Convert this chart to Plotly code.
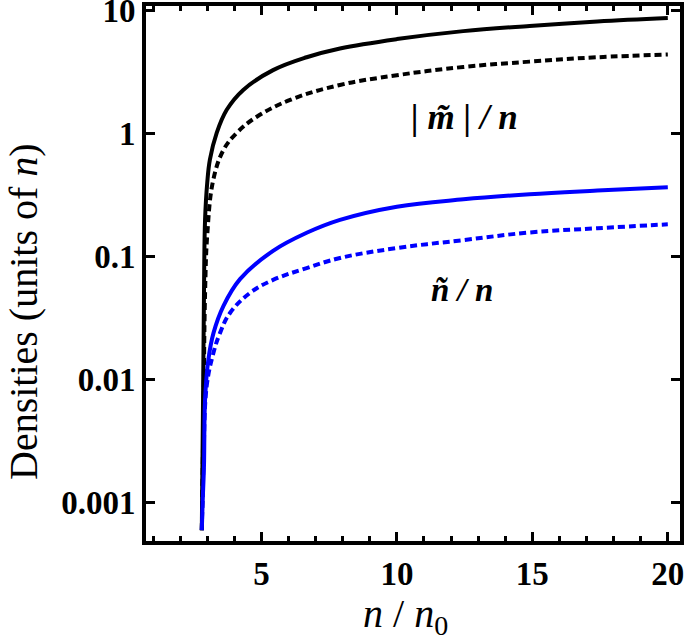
import plotly.graph_objects as go

# n/n0 sample points and densities
x_m_solid = [2.80, 2.84, 2.88, 2.92, 3.00, 3.10, 3.35, 3.72, 4.33, 5.43, 6.67, 7.90, 10.0, 12.45, 14.9, 17.4, 20.0]
m_solid = [0.0006, 0.005, 0.05, 0.20, 0.40, 0.62, 1.02, 1.57, 2.28, 3.30, 4.20, 4.95, 5.90, 6.85, 7.55, 8.20, 8.75]

x_m_dash = [2.80, 2.86, 2.92, 3.00, 3.22, 3.60, 4.09, 4.83, 6.06, 7.90, 10.0, 12.45, 14.9, 17.4, 20.0]
m_dash = [0.0006, 0.005, 0.05, 0.15, 0.42, 0.74, 1.02, 1.38, 1.89, 2.50, 3.00, 3.50, 3.87, 4.20, 4.42]

x_n_solid = [2.80, 2.83, 2.88, 2.92, 3.04, 3.23, 3.60, 4.21, 5.43, 6.67, 7.90, 10.0, 12.46, 14.9, 17.4, 20.0]
n_solid = [0.0006, 0.001, 0.002, 0.0069, 0.0145, 0.024, 0.040, 0.066, 0.112, 0.157, 0.200, 0.256, 0.294, 0.323, 0.346, 0.369]

x_n_dash = [2.80, 2.86, 2.98, 3.23, 3.47, 3.84, 4.58, 5.43, 6.67, 7.90, 10.0, 12.46, 14.9, 17.4, 20.0]
n_dash = [0.0006, 0.002, 0.0089, 0.0166, 0.024, 0.035, 0.051, 0.065, 0.081, 0.098, 0.118, 0.137, 0.158, 0.171, 0.184]

y_tickvals = [0.001, 0.01, 0.1, 1, 10]
y_ticktext = ["0.001", "0.01", "0.1", "1", "10"]
x_tickvals = [5, 10, 15, 20]

SERIF = "Liberation Serif, Times New Roman, Tinos, DejaVu Serif, serif"
SMOOTH = 1.1

fig = go.Figure()
fig.add_trace(go.Scatter(x=x_n_dash, y=n_dash, mode="lines",
                         line=dict(color="#0000ff", width=4, dash="7px,4px", shape="spline", smoothing=SMOOTH)))
fig.add_trace(go.Scatter(x=x_m_dash, y=m_dash, mode="lines",
                         line=dict(color="black", width=4, dash="7px,4px", shape="spline", smoothing=SMOOTH)))
fig.add_trace(go.Scatter(x=x_m_solid, y=m_solid, mode="lines",
                         line=dict(color="black", width=4, shape="spline", smoothing=SMOOTH)))
fig.add_trace(go.Scatter(x=x_n_solid, y=n_solid, mode="lines",
                         line=dict(color="#0000ff", width=4, shape="spline", smoothing=SMOOTH)))

tickfont = dict(family=SERIF, size=33, color="black", weight="bold")

fig.update_layout(
    width=685, height=640,
    margin=dict(l=146, r=5, t=6, b=99),
    paper_bgcolor="white", plot_bgcolor="white",
    showlegend=False,
    xaxis=dict(range=[0.74, 20.45], tickvals=x_tickvals, ticks="inside", ticklen=9, tickwidth=2.5,
               tickcolor="black", showline=True, linecolor="black", linewidth=4, mirror="ticks",
               showgrid=False, zeroline=False, tickfont=tickfont, ticklabeloverflow="allow",
               automargin=False,
               minor=dict(dtick=1, ticks="inside", ticklen=5, tickwidth=2.5, tickcolor="black", showgrid=False)),
    yaxis=dict(type="log", range=[-3.31, 1.04], tickvals=y_tickvals, ticktext=y_ticktext,
               ticks="inside", ticklen=9, tickwidth=2.5, tickcolor="black",
               showline=True, linecolor="black", linewidth=4, mirror="ticks",
               showgrid=False, zeroline=False, tickfont=tickfont, ticklabeloverflow="allow",
               automargin=False),
)

# axis titles (plot area: x 146..680, y 6..541)
fig.add_annotation(xref="paper", yref="paper", x=(23 - 146) / 534, y=(541 - 312) / 535, showarrow=False,
                   textangle=-90, xanchor="center", yanchor="middle",
                   text="Densities (units of <i>n</i>)",
                   font=dict(family=SERIF, size=40, color="black"))
fig.add_annotation(xref="paper", yref="paper", x=(405 - 146) / 534, y=(541 - 616) / 535, showarrow=False,
                   xanchor="center", yanchor="middle",
                   text="<i>n</i> / <i>n</i><sub>0</sub>",
                   font=dict(family=SERIF, size=40, color="black"))

# curve labels
fig.add_annotation(x=12.5, y=0.13, xref="x", yref="y", showarrow=False,
                   text="<b><i>| m\u0303 | / n</i></b>",
                   font=dict(family=SERIF, size=35, color="black"))
fig.add_annotation(x=12.4, y=-1.268, xref="x", yref="y", showarrow=False,
                   text="<b><i>n\u0303 / n</i></b>",
                   font=dict(family=SERIF, size=33, color="black"))

fig.write_html("out.html", config={"displayModeBar": False},
               post_script="document.body.style.margin='0px';")
